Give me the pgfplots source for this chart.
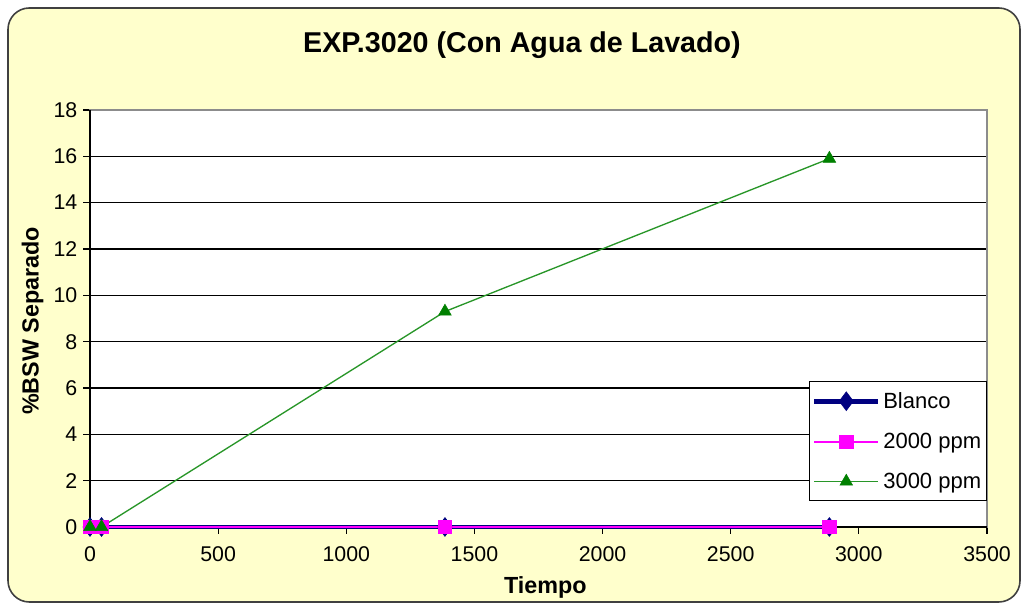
\documentclass[border=0pt]{standalone}
\usepackage{pgfplots}
\pgfplotsset{compat=1.18}
\usepackage{fontspec}
\setmainfont{Liberation Sans}

\definecolor{panelbg}{RGB}{255,255,204}
\definecolor{blanco}{RGB}{0,0,128}
\definecolor{ppmtwo}{RGB}{255,0,255}
\definecolor{ppmthree}{RGB}{0,128,0}
\definecolor{ppmthreeline}{RGB}{40,150,40}

\begin{document}
\begin{tikzpicture}
% chart area: 1024 x 605 units of 0.75pt each
\useasboundingbox (0pt,0pt) rectangle (768pt,453.75pt);
\draw[draw=black!75, line width=1.2pt, fill=panelbg, rounded corners=16pt]
  (6pt,2.25pt) rectangle (765pt,447.75pt);

\node[font=\fontsize{21.5}{25}\selectfont\bfseries] at (391.5pt,420pt) {EXP.3020 (Con Agua de Lavado)};
\node[font=\fontsize{17.5}{21}\selectfont\bfseries, rotate=90] at (24.5pt,213pt) {\%BSW Separado};
\node[font=\fontsize{17.5}{21}\selectfont\bfseries] at (409pt,13pt) {Tiempo};

\begin{axis}[
  at={(67.5pt,58.5pt)}, anchor=south west,
  scale only axis, width=672.75pt, height=312.75pt,
  xmin=0, xmax=3500, ymin=0, ymax=18,
  xtick={0,500,...,3500}, ytick={0,2,...,18},
  axis background/.style={fill=white},
  axis line style={draw=black!45, line width=0.8pt},
  ymajorgrids, major grid style={black, line width=0.9pt},
  tick align=outside, xtick pos=bottom, ytick pos=left,
  major tick length=5pt,
  tick style={black, line width=0.8pt},
  tick label style={font=\fontsize{16}{19}\selectfont},
  /pgf/number format/assume math mode=true,
  /pgf/number format/1000 sep={},
  xticklabel style={yshift=-6pt},
  yticklabel style={xshift=-1pt},
  clip=false,
  legend style={at={(1,0.35)}, anchor=north east, draw=black, line width=0.8pt,
    fill=white, font=\fontsize{16.5}{19}\selectfont, row sep=13pt,
    inner xsep=2pt, inner ysep=6pt},
  legend cell align=left,
  legend image code/.code={%
    \draw[mark repeat=2,mark phase=2] plot coordinates {(0pt,0pt) (24pt,0pt) (48pt,0pt)};},
]
% axes on the left and bottom edges
\draw[black, line width=1pt] (rel axis cs:0,0) -- (rel axis cs:0,1);
\draw[black, line width=1pt] (rel axis cs:0,0) -- (rel axis cs:1,0);

\addplot[blanco, line width=3.5pt, mark=diamond*, mark size=7pt,
  mark options={line width=0.5pt, fill=blanco}]
  coordinates {(0,0) (45,0) (1385,0) (2885,0)};
\addlegendentry{Blanco}

\addplot[ppmtwo, line width=1.5pt, mark=square*, mark size=5pt,
  mark options={line width=0.4pt, fill=ppmtwo}]
  coordinates {(0,0) (45,0) (1385,0) (2885,0)};
\addlegendentry{2000 ppm}

\addplot[ppmthreeline, line width=1pt, mark=triangle*, mark size=5.5pt,
  mark options={draw=ppmthree, fill=ppmthree, line width=0.4pt}]
  coordinates {(0,0) (45,0) (1385,9.3) (2885,15.9)};
\addlegendentry{3000 ppm}
\end{axis}
\end{tikzpicture}
\end{document}
